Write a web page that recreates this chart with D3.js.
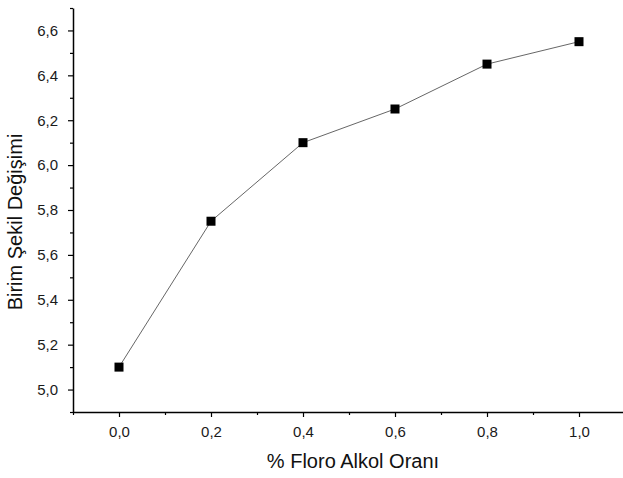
<!DOCTYPE html>
<html><head><meta charset="utf-8">
<script src="https://cdn.jsdelivr.net/npm/d3@7"></script>
<style>body{margin:0;background:#fff}svg{display:block}</style>
</head><body>
<script>
const xValues = [0.0, 0.2, 0.4, 0.6, 0.8, 1.0];
const yValues = [5.10, 5.75, 6.10, 6.25, 6.45, 6.55];
const xMajorTicks = [0.0, 0.2, 0.4, 0.6, 0.8, 1.0];
const xMinorTicks = [-0.1, 0.1, 0.3, 0.5, 0.7, 0.9];
const yMajorTicks = [5.0, 5.2, 5.4, 5.6, 5.8, 6.0, 6.2, 6.4, 6.6];
const yMinorTicks = [4.9, 5.1, 5.3, 5.5, 5.7, 5.9, 6.1, 6.3, 6.5, 6.7];
const xTitle = "% Floro Alkol Oranı";
const yTitle = "Birim Şekil Değişimi";

const W = 623, H = 478;
const svg = d3.select("body").append("svg").attr("width", W).attr("height", H);
const x = d3.scaleLinear().domain([-0.1, 1.1]).range([73, 625]);
const y = d3.scaleLinear().domain([4.9, 6.7]).range([412, 8]);
const fmt = d => d3.format(".1f")(d).replace(".", ",");
const font = "Arial, 'Liberation Sans', sans-serif";

// X axis
const gx = svg.append("g").attr("transform", "translate(0,412)");
gx.call(d3.axisBottom(x).tickValues(xMajorTicks).tickFormat(fmt).tickSizeInner(5).tickSizeOuter(0).tickPadding(9));
gx.append("g").call(d3.axisBottom(x).tickValues(xMinorTicks).tickFormat("").tickSizeInner(3).tickSizeOuter(0))
  .select(".domain").remove();
// Y axis
const gy = svg.append("g").attr("transform", "translate(73,0)");
gy.call(d3.axisLeft(y).tickValues(yMajorTicks).tickFormat(fmt).tickSizeInner(5).tickSizeOuter(0).tickPadding(10));
gy.append("g").call(d3.axisLeft(y).tickValues(yMinorTicks).tickFormat("").tickSizeInner(3).tickSizeOuter(0))
  .select(".domain").remove();

svg.selectAll(".domain").attr("stroke", "#000").attr("stroke-width", 1.5);
svg.selectAll(".tick line").attr("stroke", "#000").attr("stroke-width", 1.2);
svg.selectAll(".tick text").attr("font-family", font).attr("font-size", 15).attr("fill", "#1a1a1a");

// Line
const data = xValues.map((v, i) => ({x: v, y: yValues[i]}));
svg.append("path").datum(data)
  .attr("fill", "none").attr("stroke", "#555").attr("stroke-width", 0.9)
  .attr("d", d3.line().x(d => x(d.x)).y(d => y(d.y)));
// Markers
const s = 9;
svg.selectAll("rect.m").data(data).enter().append("rect").attr("class", "m")
  .attr("x", d => x(d.x) - s/2).attr("y", d => y(d.y) - s/2)
  .attr("width", s).attr("height", s).attr("fill", "#000");

// Titles
svg.append("text").attr("x", 353).attr("y", 468).attr("text-anchor", "middle")
  .attr("font-family", font).attr("font-size", 20).attr("fill", "#111").text(xTitle);
svg.append("text").attr("transform", "translate(22,222) rotate(-90)").attr("text-anchor", "middle")
  .attr("font-family", font).attr("font-size", 20).attr("fill", "#111").text(yTitle);
</script>
</body></html>
